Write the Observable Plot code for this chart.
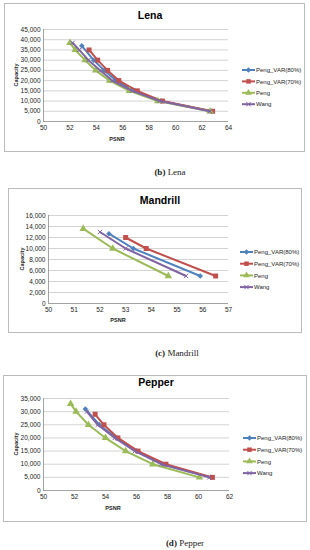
<!DOCTYPE html>
<html><head><meta charset="utf-8">
<script src="https://cdn.jsdelivr.net/npm/d3@7"></script>
<script src="https://cdn.jsdelivr.net/npm/@observablehq/plot@0.6"></script>
<style>
body{margin:0;background:#fff;}
#root{position:relative;width:310px;height:550px;overflow:hidden;font-family:"Liberation Sans",Arial,sans-serif;}
.box{position:absolute;border:1px solid #bcbcbc;box-sizing:border-box;}
.abs{position:absolute;white-space:nowrap;}
.title{font-weight:bold;font-size:10.5px;color:#000;transform:translate(-50%,-50%);}
.xlab{font-weight:bold;font-size:5.5px;transform:translate(-50%,-50%);color:#222;}
.ylab{font-weight:bold;font-size:5.5px;transform:translate(-50%,-50%) rotate(-90deg);color:#222;}
.cap{font-family:"Liberation Serif","DejaVu Serif",serif;font-size:9px;transform:translate(-50%,-50%);color:#222;}
</style></head>
<body><div id="root"></div>
<script>
// ---- series definitions ----
const seriesNames = ["Peng_VAR(80%)", "Peng_VAR(70%)", "Peng", "Wang"];
const seriesColors = ["#4F81BD", "#C0504D", "#9BBB59", "#8064A2"];
const seriesSymbols = ["diamond2", "square", "triangle", "times"];

// ---- Lena ----
const lenaVar80Psnr = [52.9, 53.8, 54.6, 55.5, 56.9, 58.9, 62.7];
const lenaVar80Cap  = [37000, 30000, 25000, 20000, 15000, 10000, 5000];
const lenaVar70Psnr = [53.45, 54.1, 54.85, 55.7, 57.1, 59.0, 62.8];
const lenaVar70Cap  = [35000, 30000, 25000, 20000, 15000, 10000, 5000];
const lenaPengPsnr  = [52.0, 52.4, 53.15, 53.95, 55.0, 56.5, 58.65, 62.6];
const lenaPengCap   = [38500, 35000, 30000, 25000, 20000, 15000, 10000, 5000];
const lenaWangPsnr  = [52.2, 52.7, 53.4, 54.3, 55.2, 56.7, 58.8, 62.6];
const lenaWangCap   = [38500, 35000, 30000, 25000, 20000, 15000, 10000, 5000];
const lenaXTicks = [50, 52, 54, 56, 58, 60, 62, 64];
const lenaYTicks = [0, 5000, 10000, 15000, 20000, 25000, 30000, 35000, 40000, 45000];

// ---- Mandrill ----
const mandVar80Psnr = [52.35, 53.3, 55.9];
const mandVar80Cap  = [12700, 10000, 5000];
const mandVar70Psnr = [53.0, 53.8, 56.5];
const mandVar70Cap  = [12000, 10000, 5000];
const mandPengPsnr  = [51.35, 52.5, 54.66];
const mandPengCap   = [13600, 10000, 5000];
const mandWangPsnr  = [52.0, 53.0, 55.35];
const mandWangCap   = [13000, 10000, 5000];
const mandXTicks = [50, 51, 52, 53, 54, 55, 56, 57];
const mandYTicks = [0, 2000, 4000, 6000, 8000, 10000, 12000, 14000, 16000];

// ---- Pepper ----
const pepVar80Psnr = [52.7, 53.6, 54.7, 56.0, 57.7, 60.8];
const pepVar80Cap  = [31000, 25000, 20000, 15000, 10000, 5000];
const pepVar70Psnr = [53.33, 53.9, 54.8, 56.1, 57.9, 60.9];
const pepVar70Cap  = [29000, 25000, 20000, 15000, 10000, 5000];
const pepPengPsnr  = [51.75, 52.1, 52.9, 54.0, 55.3, 57.05, 60.06];
const pepPengCap   = [33000, 30000, 25000, 20000, 15000, 10000, 5000];
const pepWangPsnr  = [52.8, 53.5, 54.6, 55.9, 57.6, 60.7];
const pepWangCap   = [30000, 25000, 20000, 15000, 10000, 5000];
const pepXTicks = [50, 52, 54, 56, 58, 60, 62];
const pepYTicks = [0, 5000, 10000, 15000, 20000, 25000, 30000, 35000];

const panelTitles = ["Lena", "Mandrill", "Pepper"];
const panelCaptionTags = ["(b)", "(c)", "(d)"];
const axisXLabel = "PSNR";
const axisYLabel = "Capacity";

function rows(psnrs, caps) {
  return psnrs.map((p, i) => ({psnr: p, cap: caps[i]}));
}

const panels = [
  {
    series: [rows(lenaVar80Psnr, lenaVar80Cap), rows(lenaVar70Psnr, lenaVar70Cap), rows(lenaPengPsnr, lenaPengCap), rows(lenaWangPsnr, lenaWangCap)],
    xTicks: lenaXTicks, yTicks: lenaYTicks,
    layout: {box:[4,3,301,149], svgTop:0, fl:43, fr:228, ft:29, fb:121, title:[150,15], ylab:[16,75], xlab:[117,139], leg:[242,70,11.4], cap:[170,172]}
  },
  {
    series: [rows(mandVar80Psnr, mandVar80Cap), rows(mandVar70Psnr, mandVar70Cap), rows(mandPengPsnr, mandPengCap), rows(mandWangPsnr, mandWangCap)],
    xTicks: mandXTicks, yTicks: mandYTicks,
    layout: {box:[8,188,294,145], svgTop:186, fl:48, fr:228, ft:215, fb:303, title:[160,200], ylab:[22,259], xlab:[118,320], leg:[240,252,11.7], cap:[177,353]}
  },
  {
    series: [rows(pepVar80Psnr, pepVar80Cap), rows(pepVar70Psnr, pepVar70Cap), rows(pepPengPsnr, pepPengCap), rows(pepWangPsnr, pepWangCap)],
    xTicks: pepXTicks, yTicks: pepYTicks,
    layout: {box:[3,375,304,147], svgTop:370, fl:43, fr:229, ft:398, fb:490, title:[156,382], ylab:[16,444], xlab:[113,508], leg:[243,438,11.7], cap:[185,543]}
  }
];

const root = document.getElementById("root");

function addDiv(cls, x, y, text) {
  const d = document.createElement("div");
  d.className = "abs " + cls;
  d.style.left = x + "px";
  d.style.top = y + "px";
  d.innerHTML = text;
  root.appendChild(d);
  return d;
}

const fmt = d3.format(",");

panels.forEach((pn, k) => {
  const L = pn.layout;
  const box = document.createElement("div");
  box.className = "box";
  box.style.left = L.box[0] + "px"; box.style.top = L.box[1] + "px";
  box.style.width = L.box[2] + "px"; box.style.height = L.box[3] + "px";
  root.appendChild(box);

  const xDom = [d3.min(pn.xTicks), d3.max(pn.xTicks)];
  const yDom = [d3.min(pn.yTicks), d3.max(pn.yTicks)];
  const width = L.fr + 12;
  const marks = [
    Plot.ruleY(pn.yTicks.filter(t => t > 0), {stroke: "#c8c8c8", strokeWidth: 0.8}),
    Plot.ruleX([xDom[0]], {stroke: "#8c8c8c", strokeWidth: 0.8}),
    Plot.ruleY([yDom[0]], {stroke: "#8c8c8c", strokeWidth: 0.8}),
    Plot.axisX(pn.xTicks, {tickSize: 0, tickPadding: 4, fontSize: 6.5, fill: "#222", tickFormat: d => d}),
    Plot.axisY(pn.yTicks, {tickSize: 0, tickPadding: 3, fontSize: 6.5, fill: "#222", tickFormat: fmt})
  ];
  pn.series.forEach((data, i) => {
    marks.push(Plot.line(data, {x: "psnr", y: "cap", stroke: seriesColors[i], strokeWidth: 2}));
    if (seriesSymbols[i] === "times") {
      marks.push(Plot.dot(data, {x: "psnr", y: "cap", symbol: "times", stroke: seriesColors[i], strokeWidth: 1, r: 2.1}));
    } else {
      marks.push(Plot.dot(data, {x: "psnr", y: "cap", symbol: seriesSymbols[i], fill: seriesColors[i], stroke: "none", r: seriesSymbols[i] === "diamond2" ? 2.5 : 2.8}));
    }
  });
  const chart = Plot.plot({
    width: width,
    height: L.fb - L.svgTop + 20,
    marginLeft: L.fl, marginRight: width - L.fr,
    marginTop: L.ft - L.svgTop, marginBottom: 20,
    x: {domain: xDom, label: null},
    y: {domain: yDom, label: null},
    style: {background: "transparent", fontFamily: "Liberation Sans, Arial, sans-serif", overflow: "visible"},
    marks
  });
  chart.style.position = "absolute";
  chart.style.left = "0px";
  chart.style.top = L.svgTop + "px";
  root.appendChild(chart);

  addDiv("title", L.title[0], L.title[1], panelTitles[k]);
  addDiv("ylab", L.ylab[0], L.ylab[1], axisYLabel);
  addDiv("xlab", L.xlab[0], L.xlab[1], axisXLabel);
  addDiv("cap", L.cap[0], L.cap[1], "<b>" + panelCaptionTags[k] + "</b> " + panelTitles[k]);

  // legend
  const leg = d3.create("svg").attr("width", 65).attr("height", 50)
    .style("position", "absolute").style("left", L.leg[0] + "px").style("top", (L.leg[1] - 5) + "px")
    .style("overflow", "visible");
  const symMap = {diamond2: d3.symbolDiamond2, square: d3.symbolSquare, triangle: d3.symbolTriangle, times: d3.symbolTimes};
  seriesNames.forEach((name, i) => {
    const g = leg.append("g").attr("transform", `translate(0,${5 + i * L.leg[2]})`);
    g.append("line").attr("x1", 0).attr("x2", 13).attr("stroke", seriesColors[i]).attr("stroke-width", 2);
    const path = g.append("path").attr("transform", "translate(6.5,0)")
      .attr("d", d3.symbol(symMap[seriesSymbols[i]], seriesSymbols[i] === "times" ? 14 : 20)());
    if (seriesSymbols[i] === "times") path.attr("fill", "none").attr("stroke", seriesColors[i]).attr("stroke-width", 1);
    else path.attr("fill", seriesColors[i]);
    g.append("text").attr("x", 14).attr("dy", "0.35em").attr("font-size", 6).attr("fill", "#222")
      .attr("font-family", "Liberation Sans, Arial, sans-serif").text(name);
  });
  root.appendChild(leg.node());
});
</script>
</body></html>
